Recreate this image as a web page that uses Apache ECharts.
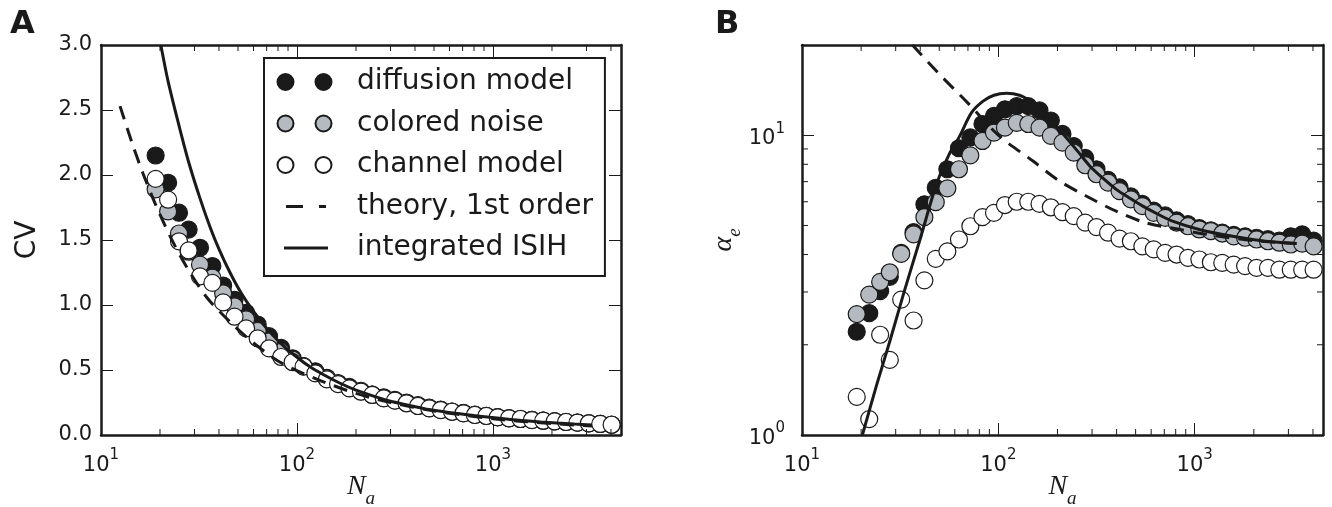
<!DOCTYPE html>
<html>
<head>
<meta charset="utf-8">
<script src="https://cdn.jsdelivr.net/npm/echarts@6/dist/echarts.min.js"></script>
<style>
html, body { margin: 0; padding: 0; background: #fff; }
#chart { width: 1332px; height: 507px; }
</style>
</head>
<body>
<div id="chart"></div>
<script>
// N_a sample points shared by the three simulated data sets
const Na = [19, 22, 25, 28, 32, 37, 42, 48, 55, 63, 72, 83, 95, 108, 124, 142, 162, 185, 212, 242,
    277, 316, 362, 414, 473, 541, 618, 707, 808, 924, 1056, 1208, 1381, 1579, 1805, 2064, 2359, 2697, 3084, 3526, 4031]

// panel A: CV
const diffusionCV = [2.15, 1.94, 1.71, 1.58, 1.44, 1.30, 1.15, 1.04, 0.94, 0.85, 0.76, 0.67, 0.59, 0.53, 0.49, 0.44, 0.40, 0.37, 0.34, 0.31,
    0.29, 0.27, 0.25, 0.23, 0.21, 0.195, 0.18, 0.17, 0.157, 0.148, 0.138, 0.13, 0.124, 0.117, 0.111, 0.106, 0.101, 0.096, 0.091, 0.086, 0.08]
const coloredCV = [1.89, 1.72, 1.55, 1.41, 1.31, 1.21, 1.09, 0.99, 0.89, 0.80, 0.72, 0.64, 0.58, 0.53, 0.48, 0.435, 0.396, 0.362, 0.336, 0.31,
    0.285, 0.266, 0.246, 0.225, 0.207, 0.193, 0.18, 0.168, 0.155, 0.147, 0.137, 0.129, 0.123, 0.116, 0.11, 0.105, 0.1, 0.095, 0.09, 0.085, 0.079]
const channelCV = [1.97, 1.81, 1.49, 1.42, 1.22, 1.17, 1.02, 0.91, 0.82, 0.744, 0.667, 0.60, 0.56, 0.526, 0.474, 0.428, 0.392, 0.359, 0.333, 0.308,
    0.282, 0.264, 0.244, 0.223, 0.205, 0.192, 0.179, 0.167, 0.154, 0.146, 0.136, 0.128, 0.123, 0.115, 0.110, 0.105, 0.10, 0.095, 0.090, 0.085, 0.079]
const theoryA_N = [12.5, 14.6, 16.4, 18.9, 22.5, 27.4, 34.6, 45.5, 59.8, 82, 126, 200, 300, 500, 1000, 2000, 3200]
const theoryA = [2.53, 2.22, 2.01, 1.78, 1.53, 1.29, 1.06, 0.87, 0.71, 0.56, 0.43, 0.32, 0.25, 0.185, 0.125, 0.088, 0.07]
const isihA_N = [20.2, 22, 25, 28, 32, 36, 40, 45.5, 52, 60, 70, 82, 95, 115, 136, 165, 200, 250, 300, 370,
    440, 540, 650, 800, 965, 1200, 1420, 1750, 2110, 2600, 3200]
const isihA = [3.0, 2.72, 2.38, 2.1, 1.82, 1.6, 1.43, 1.25, 1.09, 0.95, 0.82, 0.71, 0.625, 0.53, 0.465, 0.4, 0.345, 0.295, 0.26, 0.23,
    0.205, 0.183, 0.167, 0.15, 0.136, 0.122, 0.111, 0.1, 0.092, 0.084, 0.077]

// panel B: alpha_e
const diffusionAlpha = [2.21, 2.55, 3.02, 3.37, 4.05, 4.75, 5.88, 6.68, 7.70, 9.05, 9.83, 10.9, 11.6, 12.2, 12.5, 12.5, 12.1, 11.2, 10.1, 9.2,
    8.4, 7.7, 7.1, 6.7, 6.25, 5.9, 5.6, 5.4, 5.2, 5.05, 4.9, 4.82, 4.73, 4.65, 4.6, 4.55, 4.5, 4.45, 4.6, 4.67, 4.45]
const coloredAlpha = [2.53, 2.94, 3.24, 3.49, 4.02, 4.67, 5.33, 5.98, 6.65, 7.70, 8.57, 9.57, 10.2, 10.6, 11.0, 10.9, 10.6, 9.95, 9.45, 8.75,
    7.94, 7.41, 6.95, 6.51, 6.11, 5.80, 5.51, 5.30, 5.11, 4.97, 4.85, 4.79, 4.70, 4.60, 4.55, 4.49, 4.43, 4.38, 4.32, 4.35, 4.26]
const channelAlpha = [1.34, 1.13, 2.16, 1.78, 2.83, 2.41, 3.28, 3.87, 4.10, 4.49, 4.97, 5.33, 5.51, 5.85, 6.0, 6.0, 5.9, 5.75, 5.54, 5.37,
    5.11, 4.94, 4.73, 4.52, 4.43, 4.26, 4.16, 4.05, 4.00, 3.90, 3.85, 3.77, 3.75, 3.70, 3.66, 3.61, 3.61, 3.56, 3.56, 3.56, 3.56]
const theoryB_N = [36.5, 50, 70, 100, 150, 205, 280, 398, 565, 837, 1200, 2000, 3300]
const theoryB = [20, 16, 12.8, 10, 8.2, 7.03, 6.27, 5.58, 5.1, 4.85, 4.65, 4.45, 4.35]
const isihB_N = [20.3, 24, 28.1, 33, 39.9, 48.4, 56, 63.6, 73, 83.6, 95, 110, 128, 145, 168, 195, 222, 255, 292, 340,
    398, 470, 544, 650, 770, 1054, 1558, 2300, 3300]
const isihB = [1.0, 1.47, 2.07, 2.98, 4.49, 6.86, 8.6, 9.95, 11.9, 13.0, 13.6, 13.8, 13.6, 13.0, 12.0, 10.8, 9.8, 8.8, 7.9, 7.2,
    6.6, 6.15, 5.8, 5.45, 5.17, 4.85, 4.6, 4.43, 4.35]

// tick positions
const xMinorTicks = [20, 30, 40, 50, 60, 70, 80, 90, 200, 300, 400, 500, 600, 700, 800, 900, 2000, 3000, 4000]
const yMinorTicksB = [2, 3, 4, 5, 6, 7, 8, 9]
const cvTicks = [0, 0.5, 1, 1.5, 2, 2.5, 3]

const font = 'DejaVu Sans'
const serif = 'Liberation Serif'
const ink = '#1a1a1a'
const grey = '#b5bac0'

const zip = (xs, ys) => xs.map((x, i) => [x, ys[i]])

const frameLine = { show: true, onZero: false, lineStyle: { color: ink, width: 2.5 } }
const majorTick = { show: true, inside: true, length: 12, lineStyle: { color: ink, width: 1 } }

const powLabel = {
    formatter: v => {
        const e = Math.log10(v)
        return Math.abs(e - Math.round(e)) < 1e-6 ? `{b|10}{s|${Math.round(e)}}` : ''
    },
    rich: {
        b: { fontSize: 21, fontFamily: font, color: ink, padding: [7, 0, 0, 0] },
        s: { fontSize: 15, fontFamily: font, color: ink, verticalAlign: 'top' }
    }
}

const mathName = {
    rich: {
        n: { fontSize: 28, fontFamily: serif, fontStyle: 'italic', color: ink, padding: [0, 0, 7, 0], verticalAlign: 'top' },
        g: { fontSize: 28, fontFamily: serif, fontStyle: 'italic', color: ink, padding: [0, 0, 7, 0], verticalAlign: 'top' },
        a: { fontSize: 19, fontFamily: serif, fontStyle: 'italic', color: ink, verticalAlign: 'bottom' }
    }
}

function logX(grid, position, withLabels) {
    return {
        type: 'log', logBase: 10, gridIndex: grid, position, min: 10, max: 4500,
        axisLine: frameLine, axisTick: majorTick, splitLine: { show: false },
        axisLabel: withLabels ? { ...powLabel, margin: 13 } : { show: false },
        name: withLabels ? '{n|N}{a|a}' : '', nameLocation: 'middle', nameGap: 38,
        nameMoveOverlap: false,
        nameTextStyle: mathName
    }
}

function minorTicks(grid, values, dir, anchor) {
    return {
        type: 'custom', xAxisIndex: grid * 2, yAxisIndex: grid * 2, z: 20, silent: true,
        data: values.map(v => dir === 'x' ? [v, anchor] : [anchor, v]),
        renderItem(params, api) {
            const cs = params.coordSys
            const p = api.coord([api.value(0), api.value(1)])
            const len = 6
            const style = { stroke: ink, lineWidth: 1 }
            if (dir === 'x') {
                return {
                    type: 'group', children: [
                        { type: 'line', shape: { x1: p[0], y1: cs.y + cs.height, x2: p[0], y2: cs.y + cs.height - len }, style },
                        { type: 'line', shape: { x1: p[0], y1: cs.y, x2: p[0], y2: cs.y + len }, style }
                    ]
                }
            }
            return {
                type: 'group', children: [
                    { type: 'line', shape: { x1: cs.x, y1: p[1], x2: cs.x + len, y2: p[1] }, style },
                    { type: 'line', shape: { x1: cs.x + cs.width, y1: p[1], x2: cs.x + cs.width - len, y2: p[1] }, style }
                ]
            }
        }
    }
}

function dots(name, data, fill, axis, z) {
    return {
        type: 'scatter', name, data, xAxisIndex: axis, yAxisIndex: axis, z,
        symbol: 'circle', symbolSize: 17, clip: true,
        itemStyle: { color: fill, borderColor: ink, borderWidth: 1.2, opacity: 1 },
        emphasis: { disabled: true }
    }
}

function curve(name, data, dashed, axis) {
    return {
        type: 'line', name, data, xAxisIndex: axis, yAxisIndex: axis, z: 6,
        symbol: 'none', showSymbol: false, smooth: 0.3, clip: true, color: ink,
        lineStyle: { color: ink, width: 3, type: dashed ? [14, 9] : 'solid' },
        emphasis: { disabled: true }
    }
}

const twoDots = 'path://M0,0M55,17M0.5,8.5a8,8 0 1,0 16,0a8,8 0 1,0 -16,0zM38.5,8.5a8,8 0 1,0 16,0a8,8 0 1,0 -16,0z'
const dashIcon = 'path://M0,0M55,17M9,7h17v3h-17zM42,7h7v3h-7z'
const solidIcon = 'path://M0,0M55,17M7,7h44v3h-44z'

const chart = echarts.init(document.getElementById('chart'), null, { renderer: 'canvas' })

chart.setOption({
    animation: false,
    backgroundColor: '#fff',
    title: [
        { text: 'A', left: 10, top: 9, padding: 0, textStyle: { fontFamily: font, fontWeight: 'bold', fontSize: 32, color: ink } },
        { text: 'B', left: 715, top: 9, padding: 0, textStyle: { fontFamily: font, fontWeight: 'bold', fontSize: 32, color: ink } }
    ],
    legend: {
        left: 264, top: 58, orient: 'vertical', align: 'left',
        itemWidth: 55, itemHeight: 17, itemGap: 13.5,
        padding: [10, 12, 14, 12],
        backgroundColor: '#fff', borderColor: ink, borderWidth: 2, borderRadius: 0,
        selectedMode: false,
        textStyle: { fontFamily: font, fontSize: 28, color: ink, lineHeight: 28, padding: [0, 0, 0, 20] },
        data: [
            { name: 'diffusion model', icon: twoDots },
            { name: 'colored noise', icon: twoDots },
            { name: 'channel model', icon: twoDots },
            { name: 'theory, 1st order', icon: dashIcon },
            { name: 'integrated ISIH', icon: solidIcon }
        ]
    },
    grid: [
        { left: 101, top: 45, width: 520, height: 390, outerBoundsMode: 'none', containLabel: false },
        { left: 802, top: 45, width: 521, height: 390, outerBoundsMode: 'none', containLabel: false }
    ],
    xAxis: [
        logX(0, 'bottom', true),
        logX(0, 'top', false),
        logX(1, 'bottom', true),
        logX(1, 'top', false)
    ],
    yAxis: [
        {
            type: 'value', gridIndex: 0, position: 'left', min: cvTicks[0], max: cvTicks[cvTicks.length - 1], interval: 0.5,
            axisLine: frameLine, axisTick: majorTick, splitLine: { show: false },
            axisLabel: { formatter: v => v.toFixed(1), fontFamily: font, fontSize: 21, color: ink, margin: 9 },
            name: 'CV', nameLocation: 'middle', nameGap: 59,
            nameTextStyle: { fontFamily: font, fontSize: 28, color: ink }
        },
        {
            type: 'value', gridIndex: 0, position: 'right', min: cvTicks[0], max: cvTicks[cvTicks.length - 1], interval: 0.5,
            axisLine: frameLine, axisTick: majorTick, splitLine: { show: false }, axisLabel: { show: false }
        },
        {
            type: 'log', logBase: 10, gridIndex: 1, position: 'left', min: 1, max: 20,
            axisLine: frameLine, axisTick: majorTick, splitLine: { show: false },
            axisLabel: { ...powLabel, margin: 17 },
            name: '{g|α}{a|e}', nameLocation: 'middle', nameGap: 36,
            nameTextStyle: mathName
        },
        {
            type: 'log', logBase: 10, gridIndex: 1, position: 'right', min: 1, max: 20,
            axisLine: frameLine, axisTick: majorTick, splitLine: { show: false }, axisLabel: { show: false }
        }
    ],
    series: [
        dots('diffusion model', zip(Na, diffusionCV), ink, 0, 2),
        dots('colored noise', zip(Na, coloredCV), grey, 0, 3),
        dots('channel model', zip(Na, channelCV), '#fff', 0, 4),
        curve('theory, 1st order', zip(theoryA_N, theoryA), true, 0),
        curve('integrated ISIH', zip(isihA_N, isihA), false, 0),

        dots('diffusion model', zip(Na, diffusionAlpha), ink, 2, 2),
        dots('colored noise', zip(Na, coloredAlpha), grey, 2, 3),
        dots('channel model', zip(Na, channelAlpha), '#fff', 2, 4),
        curve('theory, 1st order', zip(theoryB_N, theoryB), true, 2),
        curve('integrated ISIH', zip(isihB_N, isihB), false, 2),

        minorTicks(0, xMinorTicks, 'x', 0),
        minorTicks(1, xMinorTicks, 'x', 1),
        minorTicks(1, yMinorTicksB, 'y', 10)
    ]
})
</script>
</body>
</html>
